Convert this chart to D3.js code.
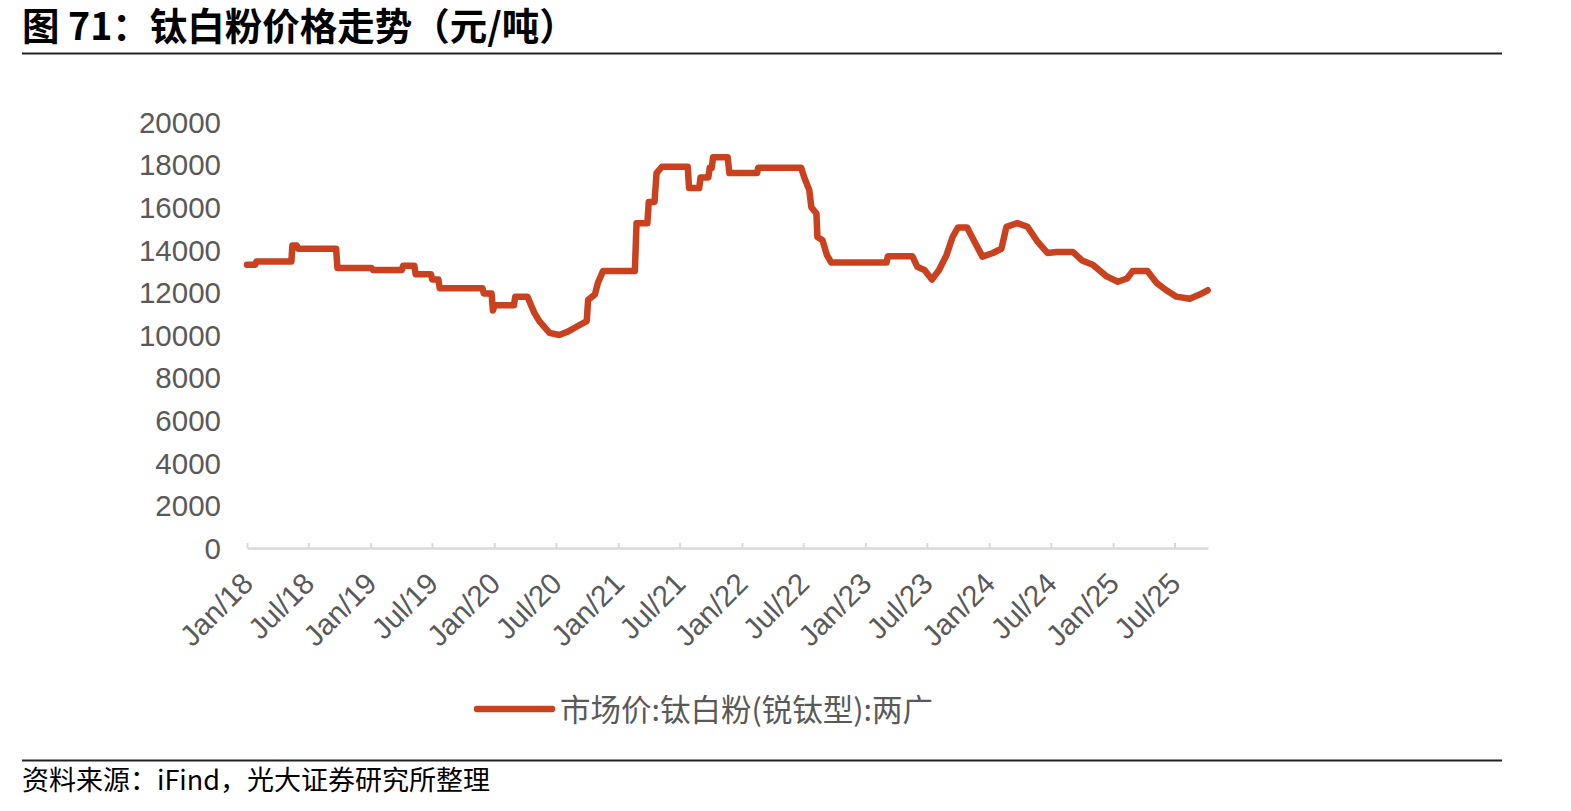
<!DOCTYPE html>
<html><head><meta charset="utf-8">
<script src="https://cdn.jsdelivr.net/npm/d3@7"></script>
<style>
body{margin:0;background:#fff;}
svg{display:block;}
</style></head>
<body><svg id="c" width="1571" height="811"></svg>
<script>
const titleText = "图 71：钛白粉价格走势（元/吨）";
const sourceText = "资料来源：iFind，光大证券研究所整理";
const seriesName = "市场价:钛白粉(锐钛型):两广";
const yTicks = [0,2000,4000,6000,8000,10000,12000,14000,16000,18000,20000];
const xTickDates = ["2018-01-01","2018-07-01","2019-01-01","2019-07-01","2020-01-01","2020-07-01","2021-01-01","2021-07-01","2022-01-01","2022-07-01","2023-01-01","2023-07-01","2024-01-01","2024-07-01","2025-01-01","2025-07-01"];
const dates = ["2018-01-01","2018-01-25","2018-01-29","2018-05-12","2018-05-15","2018-05-28","2018-06-01","2018-09-21","2018-09-25","2019-01-04","2019-01-08","2019-04-03","2019-04-07","2019-05-10","2019-05-14","2019-06-28","2019-07-02","2019-07-20","2019-07-24","2019-11-27","2019-12-01","2019-12-24","2019-12-28","2020-01-02","2020-02-28","2020-03-03","2020-04-08","2020-04-28","2020-05-13","2020-06-12","2020-07-11","2020-08-04","2020-09-01","2020-09-30","2020-10-04","2020-10-24","2020-11-02","2020-11-17","2021-02-19","2021-02-24","2021-03-28","2021-04-01","2021-04-18","2021-04-24","2021-05-10","2021-07-25","2021-07-29","2021-08-28","2021-09-01","2021-09-24","2021-09-28","2021-10-04","2021-10-08","2021-11-20","2021-11-25","2022-02-15","2022-02-18","2022-06-25","2022-07-04","2022-07-19","2022-07-25","2022-08-09","2022-08-12","2022-08-27","2022-09-09","2022-09-22","2023-03-04","2023-03-08","2023-05-19","2023-06-03","2023-06-24","2023-07-16","2023-08-06","2023-08-28","2023-09-15","2023-10-01","2023-10-28","2023-11-18","2023-12-12","2024-01-12","2024-02-06","2024-02-21","2024-03-24","2024-04-23","2024-05-22","2024-06-21","2024-07-18","2024-09-04","2024-10-01","2024-11-02","2024-12-13","2025-01-15","2025-02-11","2025-02-28","2025-04-12","2025-05-09","2025-06-07","2025-07-07","2025-08-15","2025-09-13","2025-10-07"];
const prices = [13300,13300,13450,13450,14200,14200,14050,14050,13150,13150,13050,13050,13250,13250,12850,12850,12600,12600,12200,12200,11950,11950,11150,11400,11400,11800,11800,11050,10650,10100,10000,10150,10400,10650,11650,11900,12450,13000,13000,15250,15250,16250,16250,17600,17900,17900,16900,16900,17400,17400,17850,17850,18350,18350,17600,17600,17850,17850,17400,16800,16000,15700,14600,14450,13750,13400,13400,13700,13700,13200,13050,12600,13050,13750,14600,15050,15050,14400,13680,13850,14050,15080,15250,15080,14400,13850,13900,13900,13500,13300,12750,12500,12650,13000,13000,12450,12100,11800,11700,11900,12100];
const xDomain = ["2018-01-01","2025-10-08"];

const parse = d3.timeParse("%Y-%m-%d");
const fmt = d3.timeFormat("%b/%y");
const data = dates.map((d,i)=>({date:parse(d), v:prices[i]}));
const svg = d3.select("#c");
const lineColor = "#C9411F";
const textGray = "#595959";
const latin = "'Liberation Sans', Arial, sans-serif";
const cjk = "'Noto Sans CJK SC', 'Liberation Sans', sans-serif";

const x = d3.scaleTime().domain(xDomain.map(parse)).range([247,1208]);
const y = d3.scaleLinear().domain([0,20000]).range([548,122]);

// title and rules
svg.append("text").attr("x",22).attr("y",40).attr("font-family",cjk).attr("font-weight","bold")
  .attr("font-size",37.5).attr("fill","#000").text(titleText);
svg.append("line").attr("x1",22).attr("x2",1502).attr("y1",53.5).attr("y2",53.5).attr("stroke","#222").attr("stroke-width",2);
svg.append("line").attr("x1",22).attr("x2",1502).attr("y1",760.5).attr("y2",760.5).attr("stroke","#222").attr("stroke-width",2);
svg.append("text").attr("x",22).attr("y",790).attr("font-family",cjk)
  .attr("font-size",27).attr("fill","#000").text(sourceText);

// y axis labels
const yAxis = d3.axisLeft(y).tickValues(yTicks).tickSize(0).tickPadding(0).tickFormat(d3.format("d"));
const gy = svg.append("g").attr("transform","translate(221,0)").call(yAxis);
gy.select(".domain").remove();
gy.selectAll("text").attr("font-family",latin).attr("font-size",29.5).attr("fill",textGray).attr("dy","0.35em");

// x axis
const xAxis = d3.axisBottom(x).tickValues(xTickDates.map(parse)).tickSize(-5).tickPadding(0).tickFormat(fmt).tickSizeOuter(0);
const gx = svg.append("g").attr("transform","translate(0,548)").call(xAxis);
gx.select(".domain").attr("stroke","#D9D9D9").attr("stroke-width",2.5);
gx.selectAll(".tick line").attr("stroke","#D9D9D9").attr("stroke-width",2);
gx.selectAll("text").attr("font-family",latin).attr("font-size",29.5).attr("fill",textGray)
  .attr("text-anchor","end").attr("y",0).attr("dy","0.35em")
  .attr("transform","translate(0,30) rotate(-45)");

// line
const line = d3.line().x(d=>x(d.date)).y(d=>y(d.v));
svg.append("path").datum(data).attr("d",line).attr("fill","none").attr("stroke",lineColor)
  .attr("stroke-width",6.5).attr("stroke-linejoin","round").attr("stroke-linecap","round");

// legend
svg.append("line").attr("x1",477).attr("x2",552).attr("y1",709).attr("y2",709).attr("stroke",lineColor)
  .attr("stroke-width",6.5).attr("stroke-linecap","round");
svg.append("text").attr("x",560).attr("y",710).attr("dy","0.36em").attr("font-family",cjk)
  .attr("font-size",30.5).attr("fill",textGray).text(seriesName);
</script></body></html>
